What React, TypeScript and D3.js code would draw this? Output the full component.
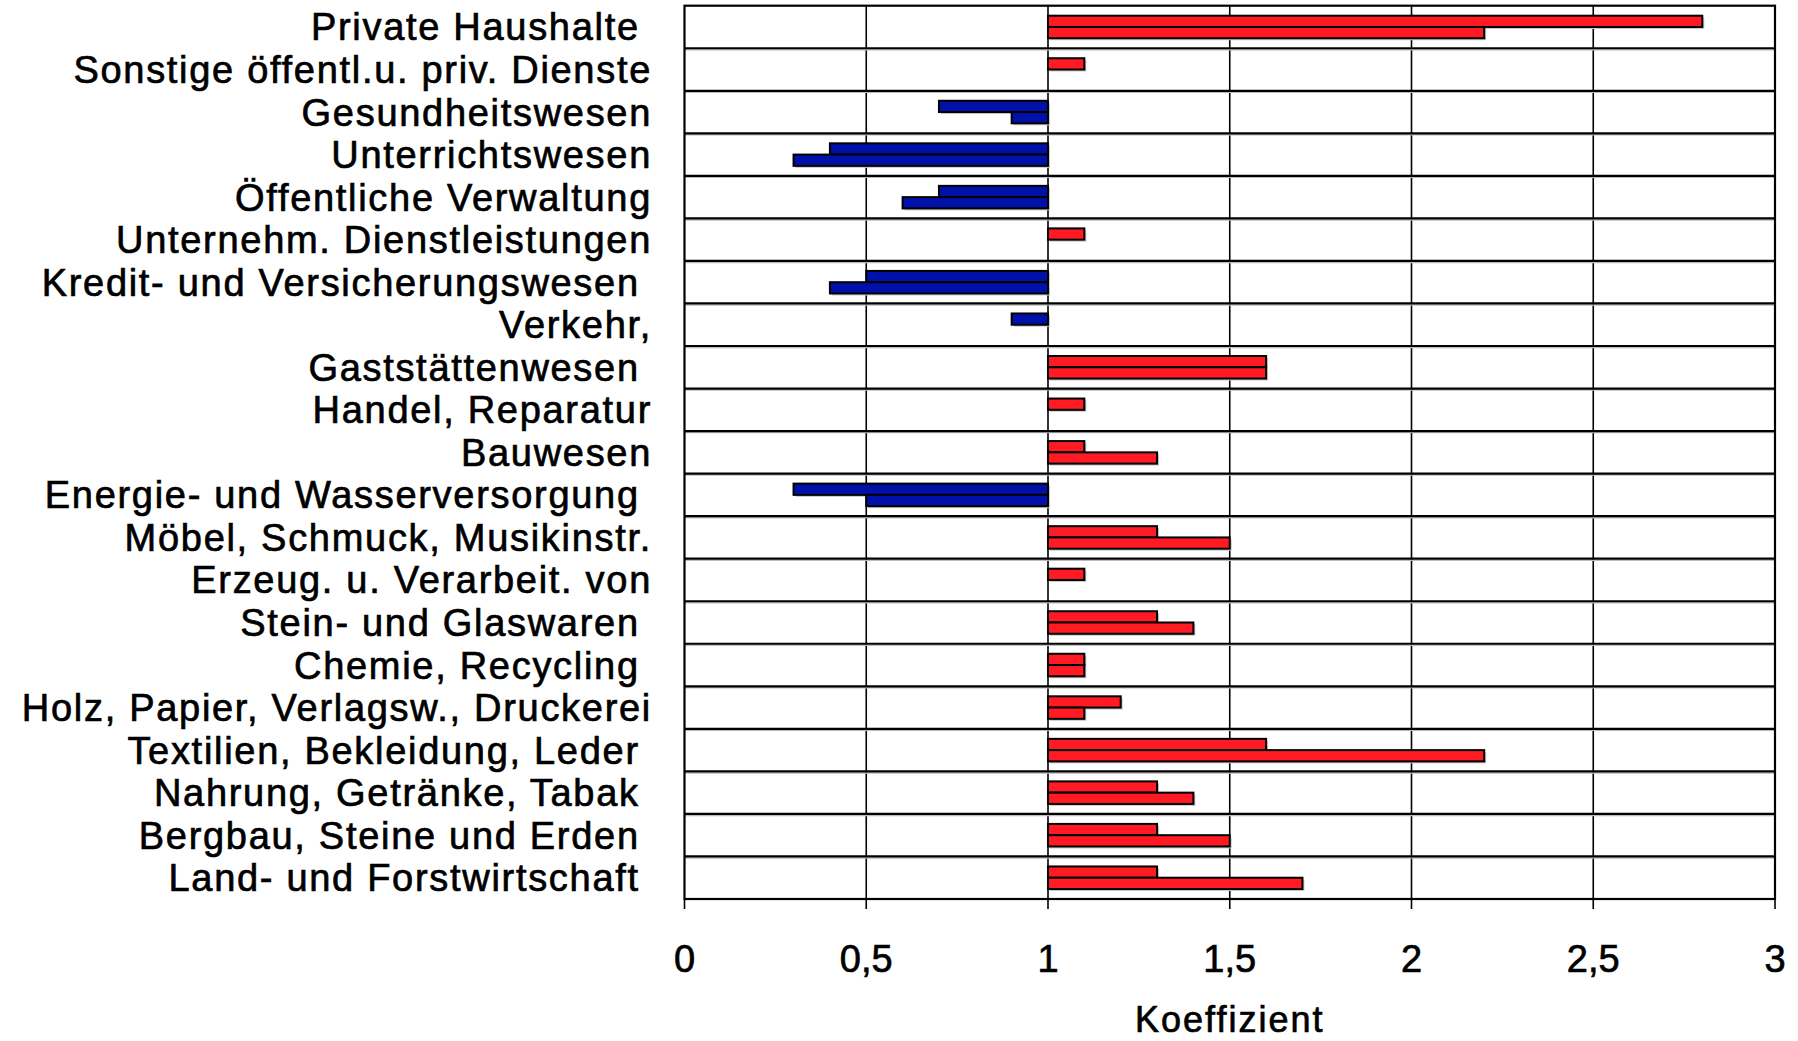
import * as d3 from "d3";
import React from "react";

// categories top to bottom, trailing spaces kept as in the original
const categories = [
  "Private Haushalte ",
  "Sonstige öffentl.u. priv. Dienste",
  "Gesundheitswesen",
  "Unterrichtswesen",
  "Öffentliche Verwaltung",
  "Unternehm. Dienstleistungen",
  "Kredit- und Versicherungswesen ",
  "Verkehr,",
  "Gaststättenwesen ",
  "Handel, Reparatur",
  "Bauwesen",
  "Energie- und Wasserversorgung ",
  "Möbel, Schmuck, Musikinstr.",
  "Erzeug. u. Verarbeit. von",
  "Stein- und Glaswaren ",
  "Chemie, Recycling ",
  "Holz, Papier, Verlagsw., Druckerei",
  "Textilien, Bekleidung, Leder ",
  "Nahrung, Getränke, Tabak ",
  "Bergbau, Steine und Erden ",
  "Land- und Forstwirtschaft ",
];

// upper bar of each row
const seriesA = [2.8, 1.1, 0.7, 0.4, 0.7, 1.1, 0.5, 0.9, 1.6, 1.1, 1.1, 0.3, 1.3, 1.1, 1.3, 1.1, 1.2, 1.6, 1.3, 1.3, 1.3];
// lower bar of each row
const seriesB = [2.2, 1.0, 0.9, 0.3, 0.6, 1.0, 0.4, 1.0, 1.6, 1.0, 1.3, 0.5, 1.5, 1.0, 1.4, 1.1, 1.1, 2.2, 1.4, 1.5, 1.7];

const xTicks = [0, 0.5, 1, 1.5, 2, 2.5, 3];
const xTickLabels = ["0", "0,5", "1", "1,5", "2", "2,5", "3"];
const baseline = 1;

const width = 1798;
const height = 1041;
const left = 684.5;
const right = 1775;
const top = 5.7;
const bottom = 899;

const font = "'Liberation Sans', Arial, sans-serif";

export default function App() {
  const x = d3.scaleLinear().domain([0, 3]).range([left, right]);
  const y = d3.scaleBand<string>().domain(categories).range([top, bottom]);
  const rowH = y.bandwidth();
  const groupH = rowH * 0.53;
  const inner = d3
    .scaleBand<string>()
    .domain(["a", "b"])
    .range([(rowH - groupH) / 2, (rowH + groupH) / 2]);

  const bars = categories.flatMap((c, i) => [
    { c, key: "a", v: seriesA[i] },
    { c, key: "b", v: seriesB[i] },
  ]).filter((d) => d.v !== baseline);

  // text is drawn a little heavier than the regular face, like the original
  const heavy = { stroke: "#000", strokeWidth: 0.7 };

  return (
    <svg
      width={width}
      height={height}
      style={{ position: "absolute", left: 0, top: 0, background: "#fff" }}
    >
      {/* vertical gridlines */}
      {xTicks.slice(1, -1).map((t) => (
        <line key={t} x1={x(t)} x2={x(t)} y1={top} y2={bottom} stroke="#000" strokeWidth={1.6} />
      ))}
      {/* row separators */}
      {categories.slice(1).map((c) => (
        <g key={c}>
          <line x1={left} x2={right} y1={y(c)! + 1.5} y2={y(c)! + 1.5} stroke="#bbb" strokeWidth={1.5} />
          <line x1={left} x2={right} y1={y(c)!} y2={y(c)!} stroke="#000" strokeWidth={2.2} />
        </g>
      ))}
      {/* bars */}
      {bars.map((d) => {
        const y0 = y(d.c)! + inner(d.key)!;
        const x0 = Math.min(x(d.v), x(baseline));
        const w = Math.abs(x(d.v) - x(baseline));
        const fill = d.v > baseline ? "#ff1a24" : "#0011aa";
        return (
          <g key={d.c + d.key}>
            <rect x={x0 + 2} y={y0 + 2} width={w} height={inner.bandwidth()} fill="#c8c8c8" />
            <rect x={x0} y={y0} width={w} height={inner.bandwidth()} fill={fill} stroke="#000" strokeWidth={2} />
          </g>
        );
      })}
      {/* plot border */}
      <rect x={left} y={top} width={right - left} height={bottom - top} fill="none" stroke="#000" strokeWidth={2.2} />
      {/* x axis ticks and labels */}
      {xTicks.map((t, i) => (
        <g key={t}>
          <line x1={x(t)} x2={x(t)} y1={bottom} y2={bottom + 10} stroke="#000" strokeWidth={1.6} />
          <text
            x={x(t)}
            y={972}
            textAnchor="middle"
            fontFamily={font}
            fontSize={38}
            fill="#000"
            {...heavy}
          >
            {xTickLabels[i]}
          </text>
        </g>
      ))}
      <text
        x={x(1.5)}
        y={1032}
        textAnchor="middle"
        fontFamily={font}
        fontSize={36}
        letterSpacing={2}
        fill="#000"
        {...heavy}
      >
        Koeffizient
      </text>
      {/* category labels */}
      {categories.map((c) => (
        <text
          key={c}
          x={652}
          y={y(c)! + rowH / 2 + 13.5}
          textAnchor="end"
          fontFamily={font}
          fontSize={38}
          letterSpacing={1.7}
          fill="#000"
          style={{ whiteSpace: "pre" }}
          {...heavy}
        >
          {c}
        </text>
      ))}
    </svg>
  );
}
